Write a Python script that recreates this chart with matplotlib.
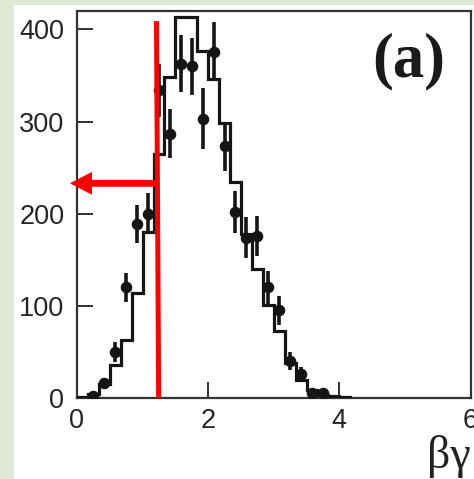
import numpy as np
import matplotlib
matplotlib.use("Agg")
import matplotlib.pyplot as plt
from matplotlib.patches import Rectangle, FancyArrow

# ---- data ----
bin_width = 1.0 / 6.0
# simulated histogram (stepped line), bins of width 1/6 starting at 0
hist_counts = [1, 4, 15, 36, 63, 114, 180, 265, 348, 413, 413, 377, 346,
               298, 234, 178, 140, 101, 73, 38, 20, 9, 3, 2, 1]
# measured data points (bin indices, counts, errors)
data_bins = [1, 2, 3, 4, 5, 6, 7, 8, 9, 10, 11, 12, 13, 14, 15, 16, 17, 18,
             19, 20, 21, 22]
data_counts = [2, 16, 50, 120, 189, 200, 334, 287, 363, 360, 303, 376, 273,
               202, 174, 176, 120, 95, 40, 26, 5, 5]
data_errors = [3, 6, 11, 16, 21, 22, 29, 27, 31, 31, 33, 32, 27, 23, 22, 22,
               18, 16, 10, 8, 4, 4]
x_ticks = [0, 2, 4, 6]
y_ticks = [0, 100, 200, 300, 400]
cut_top = (1.212, 409)
cut_bottom = (1.245, 0)
arrow_y = 233
arrow_tip_x = -0.107

# ---- figure ----
fig = plt.figure(figsize=(4.74, 4.79), dpi=100)
fig.patch.set_facecolor("white")
green = "#dfe8d2"
fig.patches.append(Rectangle((0, 0), 14 / 474, 1, transform=fig.transFigure,
                             facecolor=green, edgecolor="none", zorder=-10))
fig.patches.append(Rectangle((0, 1 - 5 / 479), 1, 5 / 479, transform=fig.transFigure,
                             facecolor=green, edgecolor="none", zorder=-10))

ax = fig.add_axes([77 / 474, (479 - 398) / 479, (470.5 - 77) / 474, (398 - 11) / 479])

edges = np.arange(len(hist_counts) + 1) * bin_width
ax.stairs(hist_counts, edges, baseline=0, color="#151515", lw=2.3, zorder=3)

xc = (np.array(data_bins) + 0.5) * bin_width
ax.errorbar(xc, data_counts, yerr=data_errors, fmt="o", color="#151515",
            ms=7.3, elinewidth=2.6, capsize=0, zorder=4)

# red cut line and arrow
ax.plot([cut_top[0], cut_bottom[0]], [cut_top[1], cut_bottom[1]], color="#ff0000",
        lw=3.6, solid_capstyle="butt", zorder=5, clip_on=False)
arr = FancyArrow(cut_top[0] + 0.02, arrow_y, arrow_tip_x - cut_top[0] - 0.02, 0,
                 width=7.5, head_width=25, head_length=0.335,
                 length_includes_head=True, color="#ff0000", lw=0,
                 zorder=6, clip_on=False)
ax.add_patch(arr)

ax.set_xlim(0, 6)
ax.set_ylim(0, 420)
ax.set_xticks(x_ticks)
ax.set_yticks(y_ticks)
ax.tick_params(direction="in", length=11.5, width=1.3, color="#222222",
               labelsize=19.5, labelcolor="#252525", top=False, right=False)
ax.tick_params(axis="y", pad=9)
ax.tick_params(axis="x", pad=7)
for lab in ax.get_xticklabels() + ax.get_yticklabels():
    lab.set_family("Liberation Sans")
for s in ax.spines.values():
    s.set_linewidth(1.6)
    s.set_color("#333333")

ax.text(0.843, 0.87, "(a)", transform=ax.transAxes, ha="center", va="center",
        fontsize=45, fontweight="bold", family=["Liberation Serif", "DejaVu Serif"],
        color="#1a1a1a")
fig.text(427 / 474, (479 - 468) / 479, "βγ", ha="left", va="baseline",
         fontsize=33, family=["Liberation Serif", "DejaVu Serif"], color="#222222")

fig.savefig("out.png", dpi=100)
